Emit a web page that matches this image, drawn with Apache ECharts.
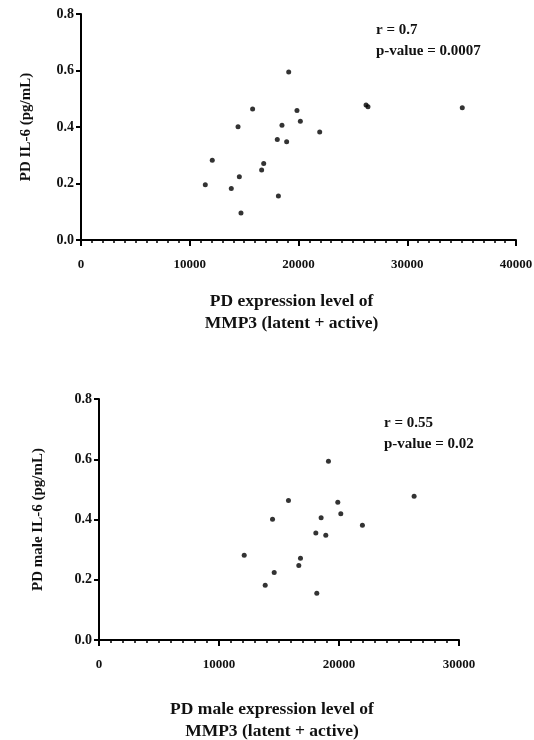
<!DOCTYPE html>
<html>
<head>
<meta charset="utf-8">
<script src="https://cdn.jsdelivr.net/npm/echarts@6/dist/echarts.min.js"></script>
<style>
  html, body { margin: 0; padding: 0; background: #fff; }
  #chart { width: 534px; height: 740px; }
</style>
</head>
<body>
<div id="chart"></div>
<script>
// PD (all) : MMP3 expression vs IL-6
const allMmp3 = [11430, 12070, 13820, 14440, 14560, 14710, 15780, 16610, 16800, 18050,
  18150, 18480, 18910, 19100, 19860, 20170, 21950, 26210, 26390, 35060];
const allIl6 = [0.196, 0.282, 0.182, 0.401, 0.224, 0.096, 0.464, 0.248, 0.271, 0.356,
  0.156, 0.406, 0.348, 0.595, 0.458, 0.420, 0.382, 0.478, 0.472, 0.468];

// PD male
const maleMmp3 = [12100, 13850, 14460, 14600, 15790, 16650, 16790, 18070, 18150, 18510,
  18900, 19120, 19900, 20150, 21950, 26260];
const maleIl6 = [0.281, 0.182, 0.401, 0.224, 0.463, 0.247, 0.271, 0.355, 0.155, 0.406,
  0.348, 0.593, 0.457, 0.419, 0.381, 0.477];

const topStats = ['r = 0.7', 'p-value = 0.0007'];
const maleStats = ['r = 0.55', 'p-value = 0.02'];

const font = '"Liberation Serif", "DejaVu Serif", serif';

const chart = echarts.init(document.getElementById('chart'));

function xAxis(gridIndex, max, name, gap) {
  return {
    type: 'value',
    gridIndex,
    min: 0,
    max,
    interval: 10000,
    name,
    nameLocation: 'middle',
    nameGap: gap,
    nameTextStyle: {
      fontFamily: font, fontWeight: 'bold', fontSize: 17.5, color: '#111', lineHeight: 22,
      padding: [0, 14, 0, 0]
    },
    axisLine: { lineStyle: { color: '#000', width: 2 } },
    axisTick: { show: true, length: 6, lineStyle: { color: '#000', width: 2 } },
    minorTick: { show: true, splitNumber: 10, length: 3, lineStyle: { color: '#000', width: 1.5 } },
    axisLabel: {
      fontFamily: font, fontWeight: 'bold', fontSize: 13, color: '#111', margin: 18,
      formatter: v => String(v)
    },
    splitLine: { show: false }
  };
}

function yAxis(gridIndex, name, gap) {
  return {
    type: 'value',
    gridIndex,
    min: 0,
    max: 0.8,
    interval: 0.2,
    name,
    nameLocation: 'middle',
    nameGap: gap,
    nameTextStyle: { fontFamily: font, fontWeight: 'bold', fontSize: 15, color: '#111' },
    axisLine: { show: true, lineStyle: { color: '#000', width: 2 } },
    axisTick: { show: true, length: 5, lineStyle: { color: '#000', width: 2 } },
    axisLabel: {
      fontFamily: font, fontWeight: 'bold', fontSize: 14, color: '#111', margin: 7,
      formatter: v => v.toFixed(1)
    },
    splitLine: { show: false }
  };
}

function statText(lines, left, top) {
  return {
    type: 'text',
    left,
    top,
    style: {
      text: lines.join('\n'),
      font: 'bold 15px ' + font,
      fill: '#111',
      lineHeight: 21
    }
  };
}

const option = {
  animation: false,
  backgroundColor: '#fff',
  grid: [
    { left: 81, right: 18, top: 14, bottom: 500, outerBoundsMode: 'none' },
    { left: 99, right: 75, top: 399, bottom: 100, outerBoundsMode: 'none' }
  ],
  xAxis: [
    xAxis(0, 40000, 'PD expression level of\nMMP3 (latent + active)', 50),
    xAxis(1, 30000, 'PD male expression level of\nMMP3 (latent + active)', 58)
  ],
  yAxis: [
    yAxis(0, 'PD IL-6 (pg/mL)', 47),
    yAxis(1, 'PD male IL-6 (pg/mL)', 53)
  ],
  graphic: [
    statText(topStats, 376, 20),
    statText(maleStats, 384, 413)
  ],
  series: [
    {
      type: 'scatter',
      xAxisIndex: 0,
      yAxisIndex: 0,
      symbolSize: 5,
      itemStyle: { color: '#000' },
      data: allMmp3.map((x, i) => [x, allIl6[i]])
    },
    {
      type: 'scatter',
      xAxisIndex: 1,
      yAxisIndex: 1,
      symbolSize: 5,
      itemStyle: { color: '#000' },
      data: maleMmp3.map((x, i) => [x, maleIl6[i]])
    }
  ]
};

chart.setOption(option);
</script>
</body>
</html>
